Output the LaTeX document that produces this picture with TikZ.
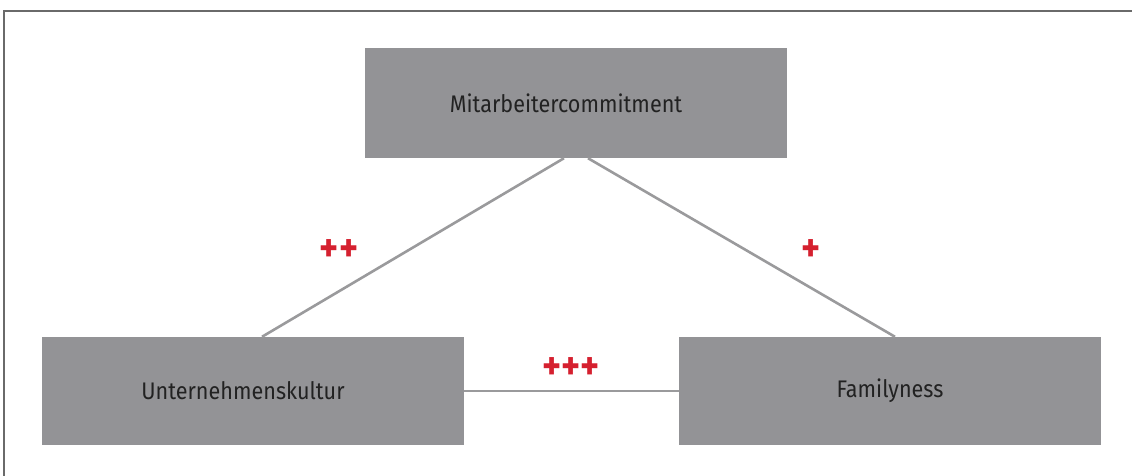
\documentclass[tikz,border=0pt]{standalone}
\usepackage{fontspec}
\setmainfont{Fira Sans}[FakeStretch=0.9]
\usetikzlibrary{calc}
\definecolor{boxgray}{HTML}{939396}
\definecolor{linegray}{HTML}{9A9A9C}
\definecolor{framegray}{HTML}{6A6A6A}
\definecolor{plusred}{HTML}{D5202F}
\definecolor{txt}{HTML}{222222}
\begin{document}
\begin{tikzpicture}[x=1pt,y=-1pt,
  box/.style={fill=boxgray,draw=none,minimum width=422pt,minimum height=108pt,inner sep=0pt,
    text=txt,font=\fontsize{24}{28}\selectfont},
  conn/.style={draw=linegray,line width=2.6pt},
  sign/.style={text=plusred,font=\fontsize{40}{44}\selectfont\bfseries,inner sep=0pt}]
\useasboundingbox (0,0) rectangle (1132,476);
\coordinate (f1) at (4,476);
\coordinate (f2) at (4,11);
\coordinate (f3) at (1132,11);
\draw[framegray,line width=2pt] (f1) -- (f2) -- (f3);
\node[box,minimum height=110pt] (top) at (576,103) {\hspace*{-20pt}Mitarbeitercommitment};
\node[box] (left) at (253,391) {\hspace*{-20pt}Unternehmenskultur};
\node[box] (right) at (890,391) {Familyness};
\draw[conn] ($(top.south)+(-12,0)$) -- ($(left.north)+(9,0)$);
\draw[conn] ($(top.south)+(12,0)$) -- ($(right.north)+(5,0)$);
\draw[conn] (left.east) -- (right.west);
\node[sign] (pp) at (339,251) {++};
\node[sign] (p) at (811,251) {+};
\node[sign] (ppp) at (571,369) {+++};
\end{tikzpicture}
\end{document}
